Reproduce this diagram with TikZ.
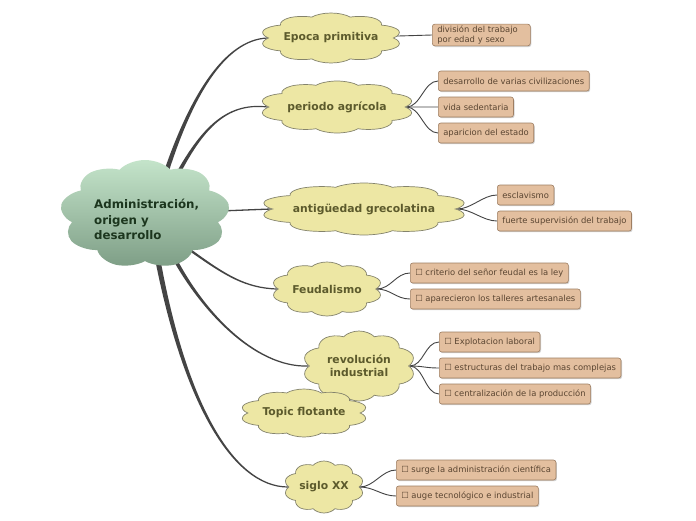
\documentclass[tikz,border=0pt]{standalone}
\usepackage{fontspec}
\setmainfont{DejaVu Sans}
\usetikzlibrary{shapes.symbols,shadows,backgrounds,calc}
\definecolor{topicfill}{HTML}{EDE7A4}
\definecolor{topicdraw}{HTML}{84836C}
\definecolor{topictext}{HTML}{5C5A2C}
\definecolor{rootA}{HTML}{C4E4CA}
\definecolor{rootB}{HTML}{7E9E86}
\definecolor{roottext}{HTML}{1C361E}
\definecolor{boxfill}{HTML}{E3BF9F}
\definecolor{boxdraw}{HTML}{9E7E62}
\definecolor{boxtext}{HTML}{5B4632}
\definecolor{linkcol}{HTML}{444444}
% #1 start, #2 ctrl1, #3 ctrl2, #4 end, #5/#6 start half-offset, #7 signed end half-offset
\newcommand\taperlink[7]{%
  \fill[linkcol] ($(#1)+(-#5,-#6)$) .. controls ($(#2)+(-0.6*#5,-0.6*#6)$) and ($(#3)+(-0.25*#5,-#7)$) .. ($(#4)+(0,-#7)$)
   -- ($(#4)+(0,#7)$) .. controls ($(#3)+(0.25*#5,#7)$) and ($(#2)+(0.6*#5,0.6*#6)$) .. ($(#1)+(#5,#6)$) -- cycle;}
\begin{document}
\begin{tikzpicture}[x=1pt,y=-1pt,
  topicshape/.style n args={2}{cloud, cloud puffs=10, cloud puff arc=125, cloud ignores aspect, draw=topicdraw, line width=0.7pt,
     fill=topicfill, inner sep=0pt, minimum width=50pt, minimum height=50pt, xscale=#1/50, yscale=#2/50},
  topictext/.style={text=topictext, font=\fontsize{10.8}{13}\selectfont\bfseries, align=center, inner sep=0pt},
  rootnode/.style={cloud, cloud puffs=9, cloud puff arc=125, cloud ignores aspect, draw=none,
     top color=rootA, bottom color=rootB, inner sep=0pt,
     minimum width=50pt, minimum height=50pt, xscale=170/50, yscale=108/50},
  roottextstyle/.style={text=roottext, font=\fontsize{11.8}{15.5}\selectfont\bfseries, align=left, anchor=north west, inner sep=0pt},
  leaf/.style={draw=boxdraw, line width=0.6pt, fill=boxfill, text=boxtext, rounded corners=2.5pt, anchor=west,
     font=\fontsize{8.4}{9.2}\selectfont, align=left, minimum height=20, inner xsep=5pt, inner ysep=2pt,
     drop shadow={opacity=0.35, shadow xshift=1pt, shadow yshift=-1.2pt}},
  sublink/.style={draw=linkcol, line width=0.9pt},
  ]
\useasboundingbox (0,0) rectangle (696,520);

% root
\node[rootnode] (root) at (145,214) {};
\node[roottextstyle] (roottxt) at (94,199) {Administración,\\origen y\\desarrollo};

% topics
\node[topicshape={142}{50}] (epoca) at (331,38) {};
\node[topictext] (epocaT) at (epoca.center) {Epoca primitiva};
\node[topicshape={155}{52}] (agr) at (337,107) {};
\node[topictext] (agrT) at (agr.center) {periodo agrícola};
\node[topicshape={208}{52}] (greco) at (364,209) {};
\node[topictext] (grecoT) at (greco.center) {antigüedad grecolatina};
\node[topicshape={111}{54}] (feud) at (327,289) {};
\node[topictext] (feudT) at (feud.center) {Feudalismo};
\node[topicshape={113}{70}] (rev) at (359,366) {};
\node[topictext] (revT) at (rev.center) {revolución\\industrial};
\node[topicshape={128}{48}] (flot) at (304,413) {};
\node[topictext] (flotT) at (flot.center) {Topic flotante};
\node[topicshape={80}{52}] (s20) at (324,487) {};
\node[topictext] (s20T) at (s20.center) {siglo XX};

% leaves
\node[leaf, text width=88pt] (l1) at (432,35) {división del trabajo\\por edad y sexo};
\node[leaf] (l2) at (438,81) {desarrollo de varias civilizaciones};
\node[leaf] (l3) at (438,107) {vida sedentaria};
\node[leaf] (l4) at (438,133) {aparicion del estado};
\node[leaf] (l5) at (497,195) {esclavismo};
\node[leaf] (l6) at (497,221) {fuerte supervisión del trabajo};
\node[leaf] (l7) at (410,273) {☐ criterio del señor feudal es la ley};
\node[leaf] (l8) at (410,299) {☐ aparecieron los talleres artesanales};
\node[leaf] (l9) at (439,342) {☐ Explotacion laboral};
\node[leaf] (l10) at (439,368) {☐ estructuras del trabajo mas complejas};
\node[leaf] (l11) at (439,394) {☐ centralización de la producción};
\node[leaf] (l12) at (396,470) {☐ surge la administración científica};
\node[leaf] (l13) at (396,496) {☐ auge tecnológico e industrial};

\coordinate (s1) at (162,185);
\coordinate (s2) at (172,185);
\coordinate (s4) at (190,250);
\coordinate (s5) at (170,250);
\coordinate (s6) at (156,250);
\coordinate (ce1) at (190,95);
\coordinate (cf1) at (225,40);
\coordinate (ce2) at (200,130);
\coordinate (cf2) at (225,102);
\coordinate (ce4) at (225,275);
\coordinate (cf4) at (245,288);
\coordinate (ce5) at (200,310);
\coordinate (cf5) at (255,368);
\coordinate (ce6) at (183,400);
\coordinate (cf6) at (232,487);

\begin{pgfonlayer}{background}
\fill[white] (0,0) rectangle (696,520);
\taperlink{s1}{ce1}{cf1}{epoca.west}{2.6}{0}{0.6}
\taperlink{s2}{ce2}{cf2}{agr.west}{2.4}{0}{0.6}
\draw[linkcol, line width=1.3pt] (root.center) -- (greco.west);
\taperlink{s4}{ce4}{cf4}{feud.west}{0.8}{2.0}{0.6}
\taperlink{s5}{ce5}{cf5}{rev.west}{2.3}{0}{-0.6}
\taperlink{s6}{ce6}{cf6}{s20.west}{2.7}{0}{-0.6}
\draw[sublink] (epoca.center) -- (l1.west);
\foreach \b in {l2,l3,l4} \draw[sublink] (agr.east) .. controls +(14,0) and +(-14,0) .. (\b.west);
\foreach \b in {l5,l6} \draw[sublink] (greco.east) .. controls +(14,0) and +(-14,0) .. (\b.west);
\foreach \b in {l7,l8} \draw[sublink] (feud.east) .. controls +(14,0) and +(-14,0) .. (\b.west);
\foreach \b in {l9,l10,l11} \draw[sublink] (rev.east) .. controls +(14,0) and +(-14,0) .. (\b.west);
\foreach \b in {l12,l13} \draw[sublink] (s20.east) .. controls +(14,0) and +(-14,0) .. (\b.west);
\end{pgfonlayer}
\end{tikzpicture}
\end{document}
